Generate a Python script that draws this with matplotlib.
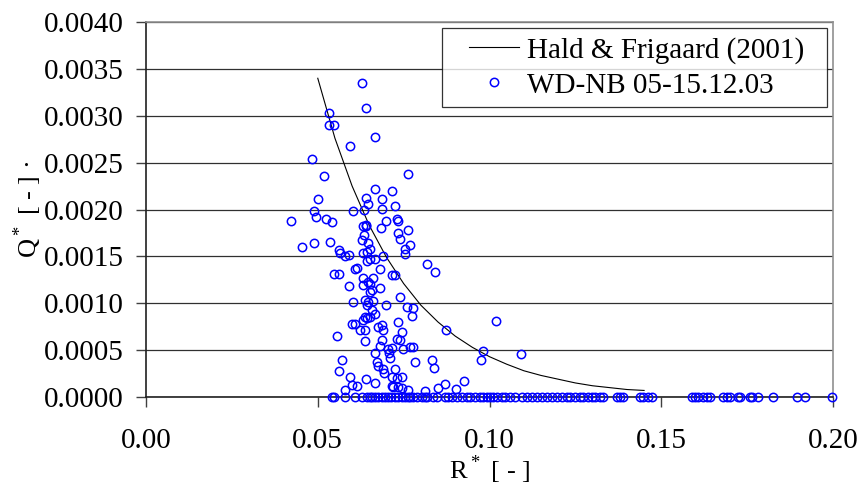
import numpy as np
import matplotlib
matplotlib.use("Agg")
import matplotlib.pyplot as plt
from matplotlib.lines import Line2D
from matplotlib.legend_handler import HandlerLine2D

plt.rcParams['font.family'] = ['Liberation Serif', 'DejaVu Serif']
plt.rcParams['mathtext.fontset'] = 'custom'
plt.rcParams['mathtext.rm'] = 'Liberation Serif'

# Hald & Frigaard (2001) curve
curve_r = [0.050, 0.055, 0.060, 0.065, 0.070, 0.075, 0.080, 0.085, 0.090, 0.095,
           0.100, 0.105, 0.110, 0.115, 0.120, 0.125, 0.130, 0.135, 0.140, 0.145]
curve_q = [0.00340, 0.00276, 0.00225, 0.00183, 0.00149, 0.00121, 0.00098, 0.00080,
           0.00065, 0.00053, 0.00043, 0.00035, 0.00028, 0.00023, 0.00019, 0.00015,
           0.00012, 0.00010, 0.00008, 0.00007]

# measured points WD-NB 05-15.12.03 with Q* > 0
meas_r = [0.0629, 0.0533, 0.0639, 0.0533, 0.0547, 0.0667, 0.0595, 0.0484, 0.0517, 0.0764,
          0.0667, 0.0716, 0.0639, 0.0645, 0.0687, 0.0725, 0.0500, 0.0687, 0.0488, 0.0494,
          0.0604, 0.0634, 0.0421, 0.0523, 0.0541, 0.0700, 0.0730, 0.0639, 0.0733, 0.0764,
          0.0735, 0.0739, 0.0769, 0.0754, 0.0754, 0.0817, 0.0841, 0.0725, 0.0739, 0.0759,
          0.0778, 0.0773, 0.0735, 0.1019, 0.0873, 0.0744, 0.0739, 0.0749, 0.0769, 0.0778,
          0.0783, 0.0832, 0.0837, 0.0980, 0.0975, 0.1091, 0.0725, 0.0730, 0.0744, 0.0735,
          0.0764, 0.0812, 0.0851, 0.0870, 0.0902, 0.0927,
          0.0455, 0.0488, 0.0537, 0.0561, 0.0565, 0.0579, 0.0590, 0.0633, 0.0639, 0.0636,
          0.0628, 0.0647, 0.0652, 0.0642, 0.0631, 0.0683, 0.0691, 0.0667, 0.0652, 0.0642,
          0.0681, 0.0608, 0.0615, 0.0547, 0.0562, 0.0715, 0.0633, 0.0662, 0.0647, 0.0633,
          0.0652, 0.0590, 0.0681, 0.0657, 0.0652, 0.0603, 0.0638, 0.0647, 0.0662, 0.0642,
          0.0700, 0.0657, 0.0667, 0.0638, 0.0652,
          0.0599, 0.0608, 0.0633, 0.0642, 0.0623, 0.0638, 0.0676, 0.0691, 0.0686, 0.0555,
          0.0638, 0.0686, 0.0730, 0.0681, 0.0705, 0.0715, 0.0667, 0.0708, 0.0710, 0.0570,
          0.0671, 0.0676, 0.0691, 0.0694, 0.0562, 0.0594, 0.0640, 0.0667, 0.0715, 0.0599,
          0.0615, 0.0579, 0.0720, 0.0716, 0.0745]
meas_q = [0.00335, 0.00303, 0.00308, 0.00290, 0.00290, 0.00277, 0.00268, 0.00254, 0.00236, 0.00238,
          0.00222, 0.00220, 0.00212, 0.00206, 0.00211, 0.00204, 0.00211, 0.00201, 0.00198, 0.00192,
          0.00198, 0.00199, 0.00188, 0.00190, 0.00187, 0.00188, 0.00190, 0.00184, 0.00188, 0.00178,
          0.00175, 0.00169, 0.00162, 0.00158, 0.00153, 0.00142, 0.00133, 0.00130, 0.00107, 0.00096,
          0.00095, 0.00086, 0.00080, 0.00081, 0.00072, 0.00069, 0.00061, 0.00051, 0.00053, 0.00053,
          0.00037, 0.00039, 0.00031, 0.00049, 0.00040, 0.00046, 0.00030, 0.00020, 0.00021, 0.00011,
          0.00007, 0.00006, 0.00010, 0.00014, 0.00009, 0.00017,
          0.00160, 0.00164, 0.00165, 0.00157, 0.00154, 0.00150, 0.00152, 0.00182, 0.00182, 0.00173,
          0.00167, 0.00164, 0.00158, 0.00155, 0.00154, 0.00180, 0.00150, 0.00147, 0.00147, 0.00145,
          0.00137, 0.00137, 0.00138, 0.00131, 0.00131, 0.00130, 0.00127, 0.00127, 0.00123, 0.00119,
          0.00121, 0.00118, 0.00116, 0.00114, 0.00112, 0.00101, 0.00103, 0.00101, 0.00102, 0.00098,
          0.00098, 0.00093, 0.00089, 0.00085, 0.00085,
          0.00078, 0.00078, 0.00082, 0.00084, 0.00071, 0.00071, 0.00075, 0.00071, 0.00077, 0.00065,
          0.00060, 0.00061, 0.00062, 0.00054, 0.00051, 0.00052, 0.00047, 0.00047, 0.00042, 0.00039,
          0.00037, 0.00033, 0.00030, 0.00026, 0.00028, 0.00021, 0.00019, 0.00015, 0.00021, 0.00013,
          0.00012, 0.00007, 0.00011, 0.00012, 0.00010]

# measured points with no overtopping (Q* = 0)
zero_r = [0.0541, 0.0547, 0.0579, 0.0608, 0.0629, 0.0643, 0.0652, 0.0658, 0.0667, 0.0675,
          0.0687, 0.0696, 0.0705, 0.0713, 0.0725, 0.0734, 0.0745, 0.0754, 0.0763, 0.0769,
          0.0777, 0.0789, 0.0803, 0.0812, 0.0818, 0.0836, 0.0847, 0.0870, 0.0879, 0.0891,
          0.0905, 0.0920, 0.0934, 0.0943, 0.0958, 0.0972, 0.0981, 0.0993, 0.1001, 0.1010,
          0.1022, 0.1036, 0.1045, 0.1060, 0.1074, 0.1095, 0.1109, 0.1124, 0.1138, 0.1153,
          0.1167, 0.1182, 0.1196, 0.1211, 0.1226, 0.1234, 0.1249, 0.1263, 0.1272, 0.1287,
          0.1298, 0.1307, 0.1322, 0.1330, 0.1371, 0.1380, 0.1389, 0.1438, 0.1447, 0.1461,
          0.1473, 0.1589, 0.1598, 0.1607, 0.1621, 0.1633, 0.1642, 0.1680, 0.1691, 0.1700,
          0.1723, 0.1729, 0.1758, 0.1764, 0.1782, 0.1825, 0.1895, 0.1918, 0.1997]
zero_q = [0.0] * len(zero_r)

x_ticks = [0.00, 0.05, 0.10, 0.15, 0.20]
y_ticks = [0.0, 0.0005, 0.0010, 0.0015, 0.0020, 0.0025, 0.0030, 0.0035, 0.0040]

fig = plt.figure(figsize=(8.61, 4.86), dpi=100)
ax = fig.add_axes([0.1696, 0.1831, 0.7979, 0.7716])

ax.plot(curve_r, curve_q, color='black', lw=0.8, label='Hald & Frigaard (2001)  ', zorder=3)
pts_r = meas_r + zero_r
pts_q = meas_q + zero_q
ax.plot(pts_r, pts_q, ls='none', marker='o', ms=6, mfc='none', mec='#0000ff', mew=1.1,
        label='WD-NB 05-15.12.03', zorder=4, clip_on=False)

ax.set_xlim(0, 0.20)
ax.set_ylim(0, 0.0040)
ax.set_xticks(x_ticks)
ax.set_yticks(y_ticks)
ax.set_xticklabels(['%.2f' % v for v in x_ticks], fontfamily='Liberation Serif', fontsize=21)
ax.set_yticklabels(['%.4f' % v for v in y_ticks], fontfamily='Liberation Serif', fontsize=21)
ax.yaxis.grid(True, color='#303030', lw=0.9)
ax.set_axisbelow(True)

ax.tick_params(axis='both', direction='out', length=7, width=1, color='#404040')
ax.tick_params(axis='x', pad=15)
ax.tick_params(axis='y', pad=9)
for s in ['left', 'bottom']:
    ax.spines[s].set_color('#202020')
    ax.spines[s].set_linewidth(1.2)
for s in ['top', 'right']:
    ax.spines[s].set_color('#909090')
    ax.spines[s].set_linewidth(1.2)

ax.set_xlabel('R$^*$ [ - ]', fontsize=19, labelpad=0)
ax.set_ylabel('Q$^*$ [ - ] \u00b7', fontsize=19, labelpad=0)

leg = ax.legend(loc='upper right', fontsize=21, frameon=True, fancybox=False,
                edgecolor='black', borderaxespad=0.2, handlelength=2.35,
                borderpad=0.3, labelspacing=0.3, handletextpad=0.25,
                handler_map={Line2D: HandlerLine2D(xpad=0.62)})
leg.get_frame().set_linewidth(0.9)

fig.savefig('out.png', dpi=100)
